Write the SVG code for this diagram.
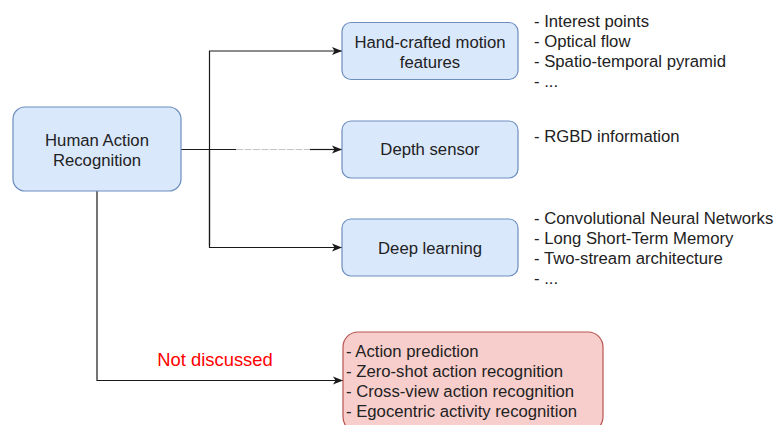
<svg xmlns="http://www.w3.org/2000/svg" width="778" height="425" viewBox="0 0 778 425">
  <defs>
    <marker id="arrow" markerUnits="userSpaceOnUse" markerWidth="12" markerHeight="10" refX="10" refY="5" orient="auto">
      <path d="M0,1 L10,5 L0,9 L2.5,5 Z" fill="#1a1a1a"/>
    </marker>
    <style>
      text { font-family: "Liberation Sans", Arial, Helvetica, sans-serif; font-size: 16.7px; fill: #222; }
      .blue { fill: #dae8fc; stroke: #6c8ebf; stroke-width: 1.2; }
      .red { fill: #f8cecc; stroke: #b85450; stroke-width: 1.2; }
      .edge { fill: none; stroke: #1a1a1a; stroke-width: 1.2; }
      .mid { text-anchor: middle; }
      .note { fill: #ff0000; font-size: 18.4px; }
    </style>
  </defs>

  <!-- connectors -->
  <g id="connectors">
    <path class="edge" d="M181,149.5 H236"/>
    <path d="M236,149.5 H310" fill="none" stroke="#c4c4c4" stroke-width="1.2" stroke-dasharray="7,1.5"/>
    <path class="edge" d="M310,149.5 H342" marker-end="url(#arrow)"/>
    <path class="edge" d="M209.5,245.5 V51 H342" marker-end="url(#arrow)"/>
    <path class="edge" d="M209.5,149.5 V247.5 H342" marker-end="url(#arrow)"/>
    <path class="edge" d="M97,191 V380.5 H343" marker-end="url(#arrow)"/>
    <text class="mid note" x="215" y="366">Not discussed</text>
  </g>

  <!-- root node -->
  <g id="human-action-recognition">
    <rect class="blue" x="13" y="107" width="168" height="84" rx="12"/>
    <text class="mid" x="97" y="146">Human Action</text>
    <text class="mid" x="97" y="166">Recognition</text>
  </g>

  <g id="hand-crafted">
    <rect class="blue" x="342" y="22.5" width="176" height="57" rx="9"/>
    <text class="mid" x="430" y="47.5">Hand-crafted motion</text>
    <text class="mid" x="430" y="67.5">features</text>
  </g>

  <g id="hand-crafted-list">
    <text x="534" y="27">- Interest points</text>
    <text x="534" y="47">- Optical flow</text>
    <text x="534" y="67">- Spatio-temporal pyramid</text>
    <text x="534" y="87">- ...</text>
  </g>

  <g id="depth-sensor">
    <rect class="blue" x="342" y="121" width="176" height="57" rx="9"/>
    <text class="mid" x="430" y="155">Depth sensor</text>
  </g>

  <g id="depth-sensor-list">
    <text x="534" y="141.5">- RGBD information</text>
  </g>

  <g id="deep-learning">
    <rect class="blue" x="342" y="219" width="176" height="57" rx="9"/>
    <text class="mid" x="430" y="254">Deep learning</text>
  </g>

  <g id="deep-learning-list">
    <text x="534" y="224">- Convolutional Neural Networks</text>
    <text x="534" y="244">- Long Short-Term Memory</text>
    <text x="534" y="264">- Two-stream architecture</text>
    <text x="534" y="284">- ...</text>
  </g>

  <g id="not-discussed">
    <rect class="red" x="343" y="332" width="260" height="100" rx="15"/>
    <text x="346" y="357">- Action prediction</text>
    <text x="346" y="377">- Zero-shot action recognition</text>
    <text x="346" y="397">- Cross-view action recognition</text>
    <text x="346" y="417">- Egocentric activity recognition</text>
  </g>
</svg>
